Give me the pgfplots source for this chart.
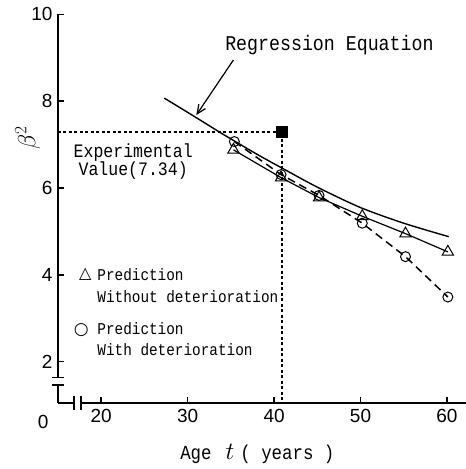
\documentclass[border=0pt]{standalone}
\usepackage{pgfplots}
\pgfplotsset{compat=1.18}
\usepackage{fontspec}
\setmainfont{Liberation Sans}
\newfontfamily\mono[FakeStretch=0.87]{Liberation Mono}
\newfontfamily\sym{DejaVu Sans}
\usetikzlibrary{arrows.meta}

\begin{document}
\begin{tikzpicture}
\begin{axis}[
  scale only axis, width=408pt, height=388.7pt,
  xmin=15, xmax=62.2, ymin=1.05, ymax=10,
  axis lines=left, axis line style={-, line width=2pt},
  xtick={20,30,...,60}, ytick={2,4,...,10},
  tick align=inside, major tick length=6pt,
  tick style={line width=1.5pt, black},
  tick label style={font=\fontsize{19}{19}\selectfont},
  xticklabel style={yshift=-3pt},
  yticklabel style={xshift=-2pt},
  /pgf/number format/assume math mode=true,
  clip=false,
]
% regression equation
\addplot[line width=1.4pt, smooth, no marks] coordinates
  {(27.3,8.07) (31,7.62) (34,7.25) (38,6.78) (41,6.45) (45,6.02) (50,5.55) (55,5.19) (60.2,4.88)};
% prediction without deterioration
\addplot[line width=1.2pt, mark=triangle, mark size=6.5pt, mark options={solid, line width=1pt}] coordinates
  {(35.3,6.88) (40.8,6.24) (45.2,5.78) (50.2,5.35) (55.2,4.95) (60.1,4.53)};
% prediction with deterioration
\addplot[line width=1.5pt, dash pattern=on 8pt off 5pt, mark=o, mark size=5pt, mark options={solid, line width=1pt}] coordinates
  {(35.4,7.07) (40.8,6.31) (45.2,5.83) (50.2,5.19) (55.2,4.42) (60.1,3.49)};
% experimental value
\addplot[line width=2pt, dash pattern=on 3pt off 2.5pt, no marks] coordinates
  {(15,7.3) (40.9,7.3) (40.9,1.05)};
\addplot[only marks, mark=square*, mark size=5.5pt] coordinates {(40.9,7.3)};

\draw[-{Straight Barb[length=9pt,width=8pt]}, line width=1.2pt] (axis cs:35.3,8.95) -- (axis cs:31.0,7.68);

\node[font=\mono\fontsize{21}{21}\selectfont, anchor=base] at (axis cs:46.4,9.16) {Regression Equation};
\node[font=\mono\fontsize{19}{18}\selectfont, align=center] at (axis cs:23.7,6.62) {Experimental\\Value(7.34)};
\node[font=\sym\fontsize{16}{16}\selectfont] at (axis cs:18.15,4.02) {△};
\node[font=\mono\fontsize{16.5}{22}\selectfont, align=left, anchor=west, inner sep=0pt] at (axis cs:19.54,3.76) {Prediction\\Without deterioration};
\node[font=\sym\fontsize{17}{17}\selectfont] at (axis cs:17.7,2.74) {○};
\node[font=\mono\fontsize{16.5}{21}\selectfont, align=left, anchor=west, inner sep=0pt] at (axis cs:19.54,2.52) {Prediction\\With deterioration};

\node[rotate=90, font=\fontsize{26}{26}\selectfont] at (axis cs:11.5,7.15) {$\beta^2$};
\node[font=\mono\fontsize{20}{20}\selectfont] at (axis cs:38.06,-0.13) {Age\hspace{14pt}{\fontsize{23}{23}\selectfont$t$}\hspace{6pt}( years )};
\node[font=\fontsize{19}{19}\selectfont] at (axis cs:13.29,0.62) {0};

\coordinate (yb1) at (axis cs:15,1.64);
\coordinate (yb2) at (axis cs:15,1.46);
\coordinate (xb1) at (axis cs:16.88,1.05);
\coordinate (xb2) at (axis cs:17.69,1.05);
\end{axis}
% axis breaks
\fill[white] ([xshift=-3pt]yb2) rectangle ([xshift=3pt]yb1);
\draw[line width=1.6pt] ([xshift=-6pt]yb1) -- ([xshift=6pt]yb1);
\draw[line width=1.6pt] ([xshift=-6pt]yb2) -- ([xshift=6pt]yb2);
\fill[white] ([yshift=-3pt]xb1) rectangle ([yshift=3pt]xb2);
\draw[line width=1.6pt] ([yshift=-7pt]xb1) -- ([yshift=7pt]xb1);
\draw[line width=1.6pt] ([yshift=-7pt]xb2) -- ([yshift=7pt]xb2);
\pgfresetboundingbox
\path[use as bounding box] (-58pt,-66pt) rectangle (408pt,403pt);
\end{tikzpicture}
\end{document}
